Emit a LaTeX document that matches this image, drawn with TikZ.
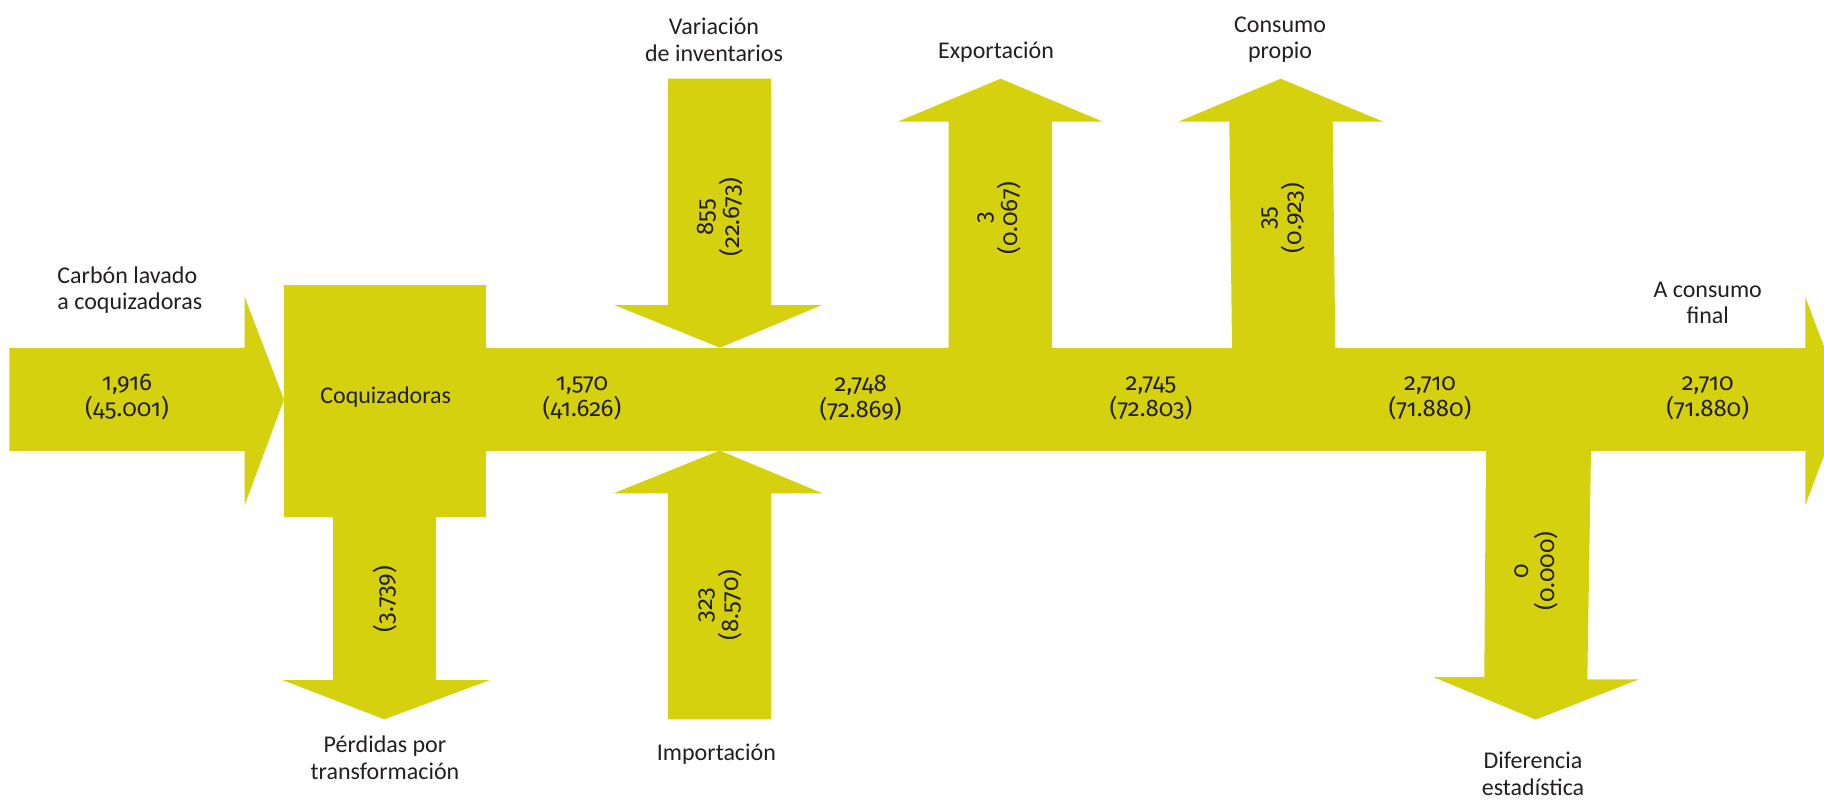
\documentclass[tikz,border=0pt]{standalone}
\usepackage{fontspec}
\setmainfont{Carlito}
\newfontfamily\numfont{Fira Sans}[Numbers=OldStyle]
\definecolor{flow}{RGB}{213,209,15}
\definecolor{ink}{RGB}{35,31,32}
\begin{document}
\begin{tikzpicture}[x=0.5pt,y=-0.5pt,
  lbl/.style={text=ink,align=center,inner sep=0pt,font=\fontsize{12}{13.3}\selectfont},
  num/.style={lbl,font=\numfont\fontsize{12}{13}\selectfont},
  vnum/.style={num,rotate=90},
  band/.style={fill=flow,draw=none}]
\useasboundingbox (0,0) rectangle (1824,799);
\clip (0,0) rectangle (1824,799);
% input arrow
\fill[band] (9.3,348) -- (244.7,348) -- (244.7,297) -- (284,399.5) -- (244.7,505) -- (244.7,451) -- (9.3,451) -- cycle;
% Coquizadoras box
\fill[band] (284,285) rectangle (485.5,516.7);
% main band with final arrowhead
\fill[band] (485,348) -- (1805.3,348) -- (1805.3,297) -- (1844.6,401) -- (1805.3,505) -- (1805.3,451) -- (485,451) -- cycle;
% Perdidas
\fill[band] (333,516) -- (436,516) -- (436,680) -- (490,680) -- (384.3,719.3) -- (282.5,680) -- (333,680) -- cycle;
% Variacion de inventarios
\fill[band] (668,78.7) -- (771,78.7) -- (771,305) -- (821.9,305) -- (720,347.7) -- (614.4,305) -- (668,305) -- cycle;
% Importacion
\fill[band] (668,719.3) -- (771,719.3) -- (771,493.3) -- (822.5,493.3) -- (719.6,450.5) -- (613.6,493.3) -- (668,493.3) -- cycle;
% Exportacion
\fill[band] (948.5,348.5) -- (1052,348.5) -- (1052,121.7) -- (1103,121.7) -- (1000.6,78.7) -- (897.6,121.7) -- (948.5,121.7) -- cycle;
% Consumo propio
\fill[band] (1232,348.5) -- (1335.3,348.5) -- (1332.7,121.7) -- (1383.3,121.7) -- (1280.7,78.7) -- (1178.3,121.7) -- (1229.3,121.7) -- cycle;
% Diferencia estadistica
\fill[band] (1486,450.5) -- (1591,450.5) -- (1587.3,679.4) -- (1638.7,679.4) -- (1535.7,719.6) -- (1433.3,677) -- (1484.3,677) -- cycle;
% texts
\node[lbl,anchor=west,align=left] (tin) at (57,290) {Carbón lavado\\a coquizadoras};
\node[num] (nin) at (127,397) {1,916\\(45.001)};
\node[lbl] (coq) at (385.7,397) {Coquizadoras};
\node[num] (n1) at (582,398) {1,570\\(41.626)};
\node[num] (n2) at (860.7,398) {2,748\\(72.869)};
\node[num] (n3) at (1151,398) {2,745\\(72.803)};
\node[num] (n4) at (1430,398) {2,710\\(71.880)};
\node[num] (n5) at (1707.7,398) {2,710\\(71.880)};
\node[lbl] (tfin) at (1707.7,303) {A consumo\\final};
\node[lbl] (tvar) at (714,40) {Variación\\de inventarios};
\node[lbl] (texp) at (996,52) {Exportación};
\node[lbl] (tcon) at (1280,39.5) {Consumo\\propio};
\node[lbl] (tper) at (385,758) {Pérdidas por\\transformación};
\node[lbl] (timp) at (716.4,754.3) {Importación};
\node[lbl] (tdif) at (1533,774) {Diferencia\\estadística};
\node[vnum] (vvar) at (719.7,217) {855\\(22.673)};
\node[vnum] (vexp) at (999,218) {3\\(0.067)};
\node[vnum] (vcon) at (1283,218) {35\\(0.923)};
\node[vnum] (vper) at (385,599) {(3.739)};
\node[vnum] (vimp) at (720,605) {323\\(8.570)};
\node[vnum] (vdif) at (1536.7,571) {0\\(0.000)};
\end{tikzpicture}
\end{document}
